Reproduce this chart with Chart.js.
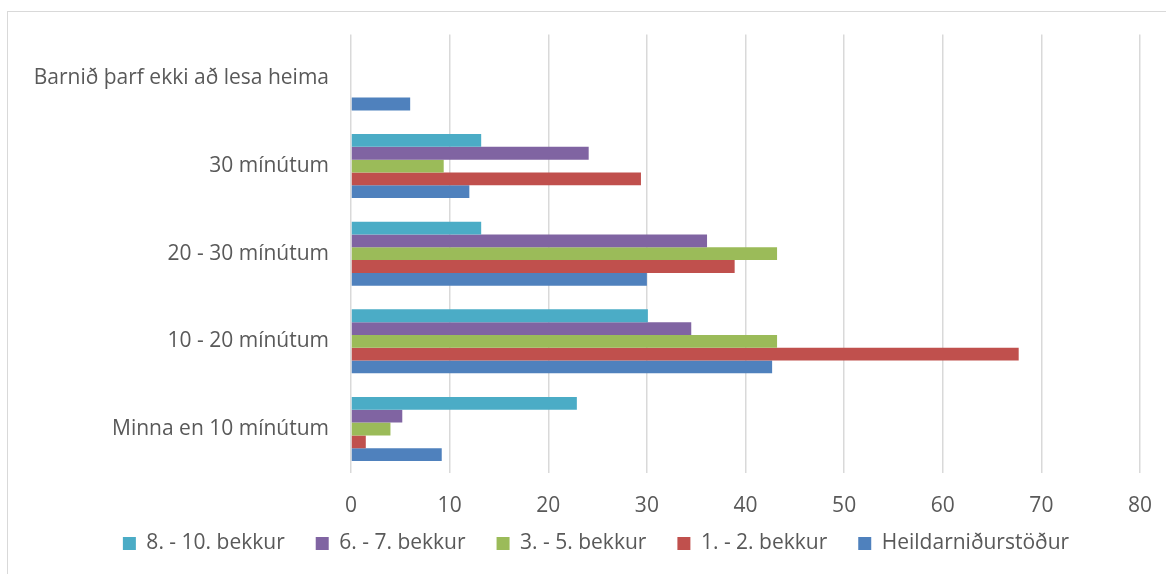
<!doctype html>
<html lang="is">
<head>
<meta charset="utf-8">
<title>Lestur heima</title>
<style>
  body { margin: 0; background: #fff; }
  #frame { position: absolute; left: 7px; top: 11px; width: 1170px; height: 580px;
           border-left: 1px solid #d9d9d9; border-top: 1px solid #d9d9d9; }
  #wrap { position: absolute; left: 0; top: 0; width: 1166px; height: 574px; }
</style>
</head>
<body>
<div id="frame"></div>
<div id="wrap"><canvas id="chart" width="1166" height="574"></canvas></div>
<script src="https://cdn.jsdelivr.net/npm/chart.js@4.4.0/dist/chart.umd.min.js"></script>
<script>
const categories = ['Barnið þarf ekki að lesa heima', '30 mínútum', '20 - 30 mínútum', '10 - 20 mínútum', 'Minna en 10 mínútum'];
const seriesNames = ['8. - 10. bekkur', '6. - 7. bekkur', '3. - 5. bekkur', '1. - 2. bekkur', 'Heildarniðurstöður'];
const grade8to10 = [0, 13.2, 13.2, 30.1, 22.9];
const grade6to7 = [0, 24.1, 36.1, 34.5, 5.2];
const grade3to5 = [0, 9.4, 43.2, 43.2, 4.0];
const grade1to2 = [0, 29.4, 38.9, 67.7, 1.5];
const overall = [6.0, 12.0, 30.0, 42.7, 9.2];
const colors = ['#4BACC6', '#8064A2', '#9BBB59', '#C0504D', '#4F81BD'];
const xTicks = [0, 10, 20, 30, 40, 50, 60, 70, 80];

const values = [grade8to10, grade6to7, grade3to5, grade1to2, overall];
const textColor = '#595959';
const font = { family: '"Open Sans", Lato, sans-serif', size: 21 };

// legend padding is also used for the gap above it; shrink the legend box so the
// plot reaches further down, then move the legend back up (and a bit right)
const LEGEND_SHIFT = 38;
const LEGEND_DX = 26;
const legendShift = {
    id: 'legendShift',
    beforeLayout(chart) {
        const lg = chart.legend;
        if (lg && !lg._shiftWrapped) {
            const fit = lg.fit;
            lg.fit = function () { fit.call(this); this.height -= LEGEND_SHIFT; };
            lg._shiftWrapped = true;
        }
    },
    afterLayout(chart) {
        const lg = chart.legend;
        lg.top -= LEGEND_SHIFT;
        lg.left += LEGEND_DX;
        lg.right += LEGEND_DX;
    }
};

new Chart(document.getElementById('chart'), {
    type: 'bar',
    data: {
        labels: categories,
        datasets: seriesNames.map((name, i) => ({
            label: name,
            data: values[i],
            backgroundColor: colors[i],
            borderWidth: 0,
            categoryPercentage: 0.73,
            barPercentage: 1.0,
        }))
    },
    plugins: [legendShift],
    options: {
        indexAxis: 'y',
        responsive: false,
        animation: false,
        layout: { padding: { top: 34, right: 26, bottom: 10, left: 0 } },
        plugins: {
            tooltip: { enabled: false },
            legend: {
                position: 'bottom',
                labels: {
                    color: textColor,
                    font: font,
                    boxWidth: 13,
                    boxHeight: 13,
                    padding: 31,
                }
            }
        },
        scales: {
            x: {
                min: 0,
                max: 80,
                afterBuildTicks: axis => { axis.ticks = xTicks.map(v => ({ value: v })); },
                afterFit: axis => { axis.paddingRight = 0; axis.paddingLeft = 0; },
                ticks: { color: textColor, font: font, padding: 21 },
                grid: { color: '#d9d9d9', lineWidth: 1.5, drawTicks: false },
                border: { display: false },
            },
            y: {
                afterFit: axis => { axis.width = 351; },
                ticks: { color: textColor, font: font, padding: 22 },
                grid: { display: false, drawTicks: false },
                border: { display: false },
            }
        }
    }
});
</script>
</body>
</html>
